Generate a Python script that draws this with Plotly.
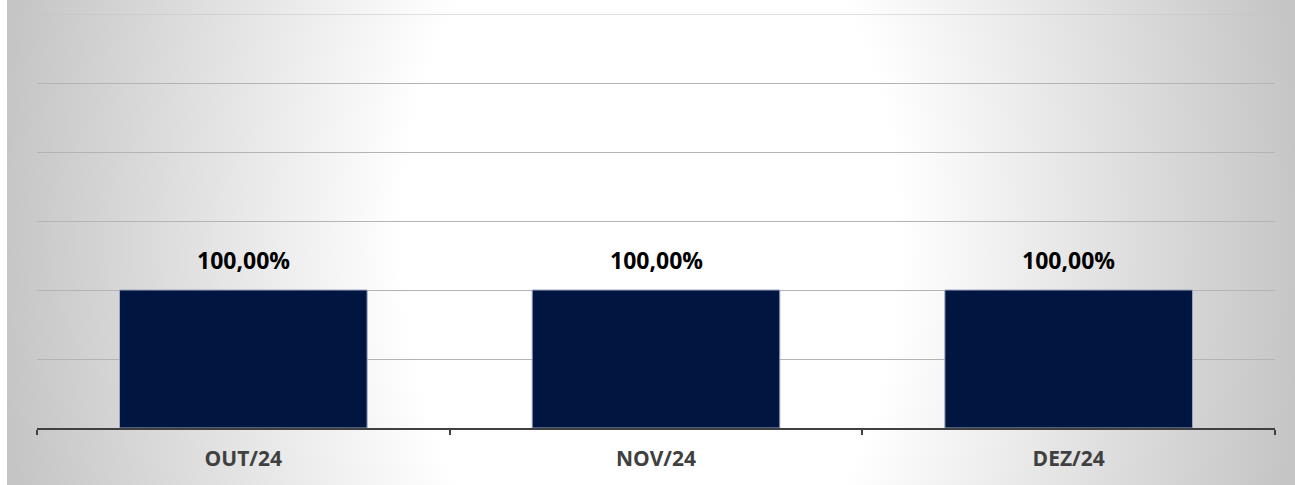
import base64
import plotly.graph_objects as go

categories = ["OUT/24", "NOV/24", "DEZ/24"]
values = [1.00, 1.00, 1.00]  # 100,00%
y_ticks = [0, 0.5, 1.0, 1.5, 2.0, 2.5, 3.0]

W, H = 1295, 485
ML, MR, MT, MB = 37, 20, 14, 57
PW, PH = W - ML - MR, H - MT - MB

# gradient background (Excel-like "from center" fill, wide white core)
BG_X0 = 7
bw, bh = W - BG_X0, H
cx, cy = bw / 2, bh / 2
rx, ry = bw / 2 + 8, 1000
svg = f'''<svg xmlns="http://www.w3.org/2000/svg" width="{bw}" height="{bh}" viewBox="0 0 {bw} {bh}" preserveAspectRatio="none">
<defs><radialGradient id="g" gradientUnits="userSpaceOnUse" cx="0" cy="0" r="1" gradientTransform="translate({cx} {cy}) scale({rx} {ry})">
<stop offset="0" stop-color="#ffffff"/><stop offset="0.38" stop-color="#ffffff"/><stop offset="1" stop-color="#c5c5c5"/>
</radialGradient></defs><rect x="0" y="0" width="{bw}" height="{bh}" fill="url(#g)"/></svg>'''
src = "data:image/svg+xml;base64," + base64.b64encode(svg.encode()).decode()

fig = go.Figure()
fig.add_trace(go.Bar(
    x=categories, y=values,
    marker=dict(color="#001641", line=dict(color="#9aa6bf", width=1)),
    hoverinfo="skip",
))

for c, v in zip(categories, values):
    fig.add_annotation(
        x=c, y=v, xref="x", yref="y",
        text="<b>" + f"{v*100:.2f}%".replace(".", ",") + "</b>",
        showarrow=False, yanchor="bottom", yshift=12,
        font=dict(family="Open Sans", size=23, color="#000000"),
    )

# top gridline (at the edge of the plot area, which plotly does not draw)
fig.add_shape(type="line", xref="paper", yref="y", x0=0, x1=1,
              y0=y_ticks[-1], y1=y_ticks[-1], line=dict(color="#c4c4c4", width=1),
              layer="below")

fig.add_layout_image(dict(
    source=src, xref="paper", yref="paper",
    x=(BG_X0 - ML) / PW, y=1 + MT / PH,
    sizex=bw / PW, sizey=bh / PH,
    xanchor="left", yanchor="top", sizing="stretch", layer="below",
))

fig.update_layout(
    width=W, height=H,
    margin=dict(l=ML, r=MR, t=MT, b=MB, pad=0),
    paper_bgcolor="#ffffff", plot_bgcolor="rgba(0,0,0,0)",
    bargap=0.4, showlegend=False,
    xaxis=dict(
        type="category", range=[-0.5, 2.5],
        showline=True, linecolor="#404040", linewidth=2,
        ticks="outside", tickson="boundaries", ticklen=5, tickwidth=2, tickcolor="#404040",
        showgrid=False,
        tickfont=dict(family="Open Sans", size=21, color="#404040", weight="bold"),
        ticklabelstandoff=11,
    ),
    yaxis=dict(
        range=[0, y_ticks[-1]], tickvals=y_ticks, showticklabels=False,
        showgrid=True, gridcolor="#b4b4b4", gridwidth=1,
        zeroline=False, showline=False,
    ),
)

fig.write_html("out.html")
